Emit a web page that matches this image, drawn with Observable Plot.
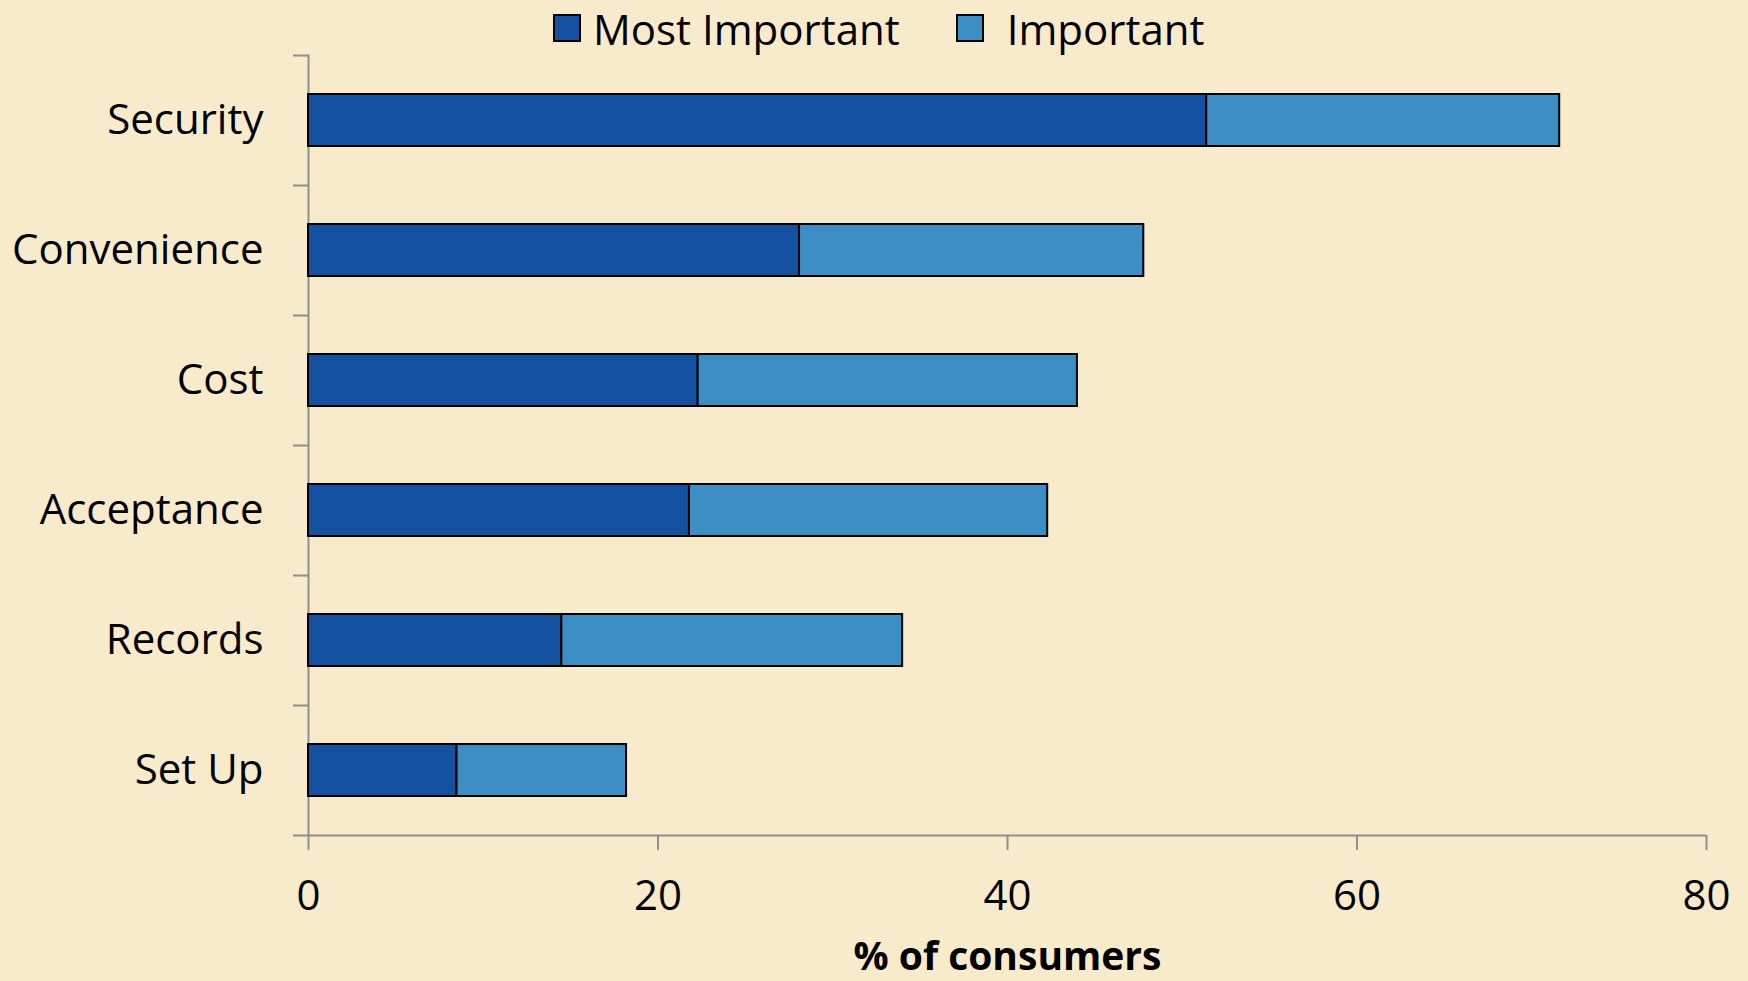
<!DOCTYPE html>
<html>
<head>
<meta charset="utf-8">
<script src="https://cdn.jsdelivr.net/npm/d3@7"></script>
<script src="https://cdn.jsdelivr.net/npm/@observablehq/plot@0.6"></script>
<style>
  html, body { margin: 0; padding: 0; background: #F8EBCB; }
  body { width: 1748px; height: 981px; position: relative; overflow: hidden; font-family: "Open Sans", sans-serif; }
  #legend { position: absolute; top: 1px; left: 553px; height: 54px; display: flex; align-items: center; font-size: 42px; color: #000; white-space: nowrap; }
  #legend .sw { width: 24px; height: 24px; border: 2px solid #000; display: inline-block; }
  #legend .item { display: flex; align-items: center; }
  #chart { position: absolute; top: 0; left: 0; }
  #chart g[aria-label="x-axis tick"] path { stroke: #8f8f8f; stroke-width: 2; }
</style>
</head>
<body>
<div id="legend"></div>
<div id="chart"></div>
<script>
const categories = ["Security", "Convenience", "Cost", "Acceptance", "Records", "Set Up"];
const mostImportant = [51.4, 28.1, 22.3, 21.8, 14.5, 8.5];
const important = [20.2, 19.7, 21.7, 20.5, 19.5, 9.7];
const series = ["Most Important", "Important"];
const seriesColors = ["#1451A0", "#3D8EC4"];
const xTicks = [0, 20, 40, 60, 80];
const xLabel = "% of consumers";

const data = [];
categories.forEach((c, i) => {
  data.push({category: c, series: series[0], value: mostImportant[i]});
  data.push({category: c, series: series[1], value: important[i]});
});

// legend
const legend = document.getElementById("legend");
series.forEach((s, i) => {
  const item = document.createElement("div");
  item.className = "item";
  item.style.marginRight = i === 0 ? "56px" : "0";
  const sw = document.createElement("span");
  sw.className = "sw";
  sw.style.background = seriesColors[i];
  sw.style.marginRight = i === 0 ? "12px" : "23px";
  const t = document.createElement("span");
  t.textContent = s;
  item.appendChild(sw);
  item.appendChild(t);
  legend.appendChild(item);
});

const axisGray = "#8f8f8f";
const chart = Plot.plot({
  width: 1748,
  height: 981,
  marginTop: 54.5,
  marginBottom: 146,
  marginLeft: 308,
  marginRight: 42,
  style: {fontFamily: "Open Sans", fontSize: "42px", background: "transparent", color: "#000", overflow: "visible"},
  x: {domain: [0, 80], ticks: xTicks, tickSize: 15, tickPadding: 30, label: null},
  y: {domain: categories, paddingInner: 0.6, paddingOuter: 0.3, tickSize: 0, tickPadding: 45, label: null},
  color: {domain: series, range: seriesColors},
  marks: [
    Plot.ruleX([0], {stroke: axisGray, strokeWidth: 2}),
    Plot.ruleY(categories, {y: d => d, x1: 0, x2: 0, insetLeft: -15, dy: -65, stroke: axisGray, strokeWidth: 2}),
    Plot.ruleY([categories[categories.length - 1]], {y: d => d, x1: 0, x2: 80, insetLeft: -15, dy: 65, stroke: axisGray, strokeWidth: 2}),
    Plot.barX(data, {y: "category", x: "value", fill: "series", stroke: "#000", strokeWidth: 2}),
    Plot.text([xLabel], {frameAnchor: "bottom", text: d => d, dy: 122, fontWeight: "bold", fontSize: 39, fill: "#000", lineAnchor: "middle"})
  ]
});
document.getElementById("chart").appendChild(chart);
</script>
</body>
</html>
